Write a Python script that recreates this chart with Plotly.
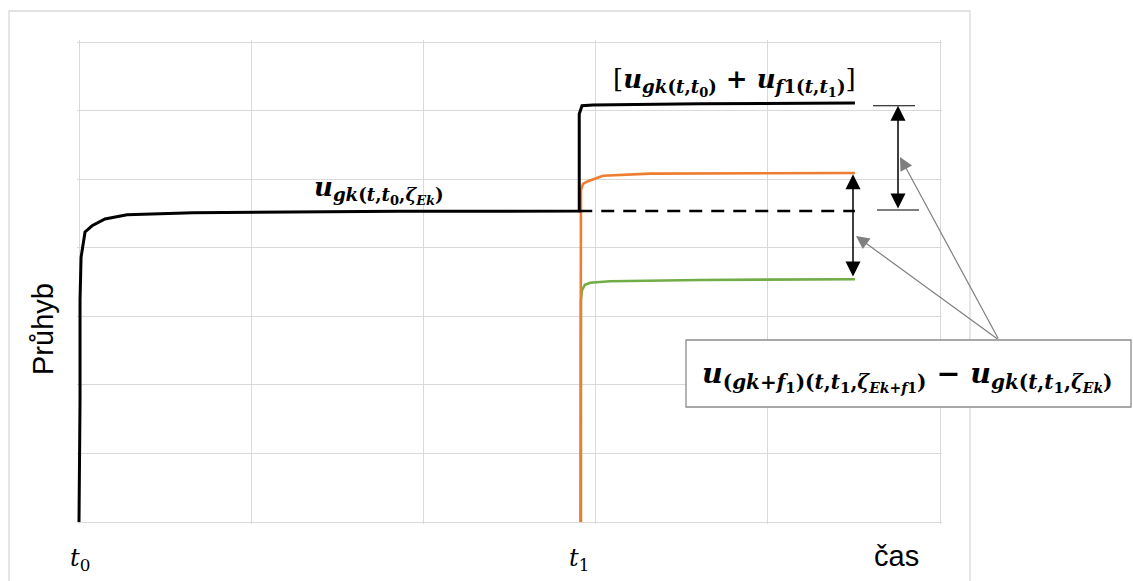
import plotly.graph_objects as go

# ---------------- data (time in grid units, deflection in grid units) ----------------
t0 = 0.0
t1 = 2.905
t_end = 4.506

# long-term deflection from load gk applied at t0 (black)
t_gk = [0.0, 0.006, 0.006, 0.012, 0.035, 0.076, 0.151, 0.279, 0.662, 1.051, 1.864, 2.905]
u_gk = [0.0, 1.78, 3.24, 3.86, 4.23, 4.32, 4.42, 4.48, 4.51, 4.52, 4.53, 4.535]
# superposition after t1 (black, upper)
t_sum = [2.905, 2.905, 2.921, 2.985, 3.606, 4.506]
u_sum = [4.535, 5.95, 6.07, 6.08, 6.10, 6.11]
# continuation of gk without extra load (dashed)
t_dash = [2.905, 4.506]
u_dash = [4.535, 4.535]
# deflection (gk+f1) from t1 (orange)
t_or = [2.912, 2.912, 2.915, 2.927, 2.956, 3.043, 3.316, 4.506]
u_or = [0.0, 3.24, 4.84, 4.93, 4.97, 5.05, 5.08, 5.09]
# deflection gk from t1 (green)
t_gr = [2.915, 2.915, 2.921, 2.938, 2.968, 3.084, 3.606, 4.506]
u_gr = [0.0, 3.24, 3.38, 3.46, 3.49, 3.51, 3.53, 3.54]

x_tick_labels = ["t", "t", "čas"]
x_tick_subs = ["0", "1", ""]
y_title = "Průhyb"

# ---------------- layout helpers ----------------
W, H = 1133, 581
# grid box (pixel) and a 2px padding so lines on the edges are not clipped
GL, GR, GT, GB = 79, 940, 42, 522
PAD = 2
PL, PR, PT, PB = GL - PAD, GR + PAD, GT - PAD, GB + PAD
XU = (GR - GL) / 5.0   # px per x unit
YU = (GB - GT) / 7.0   # px per y unit


def px(x):
    return (x - PL) / (PR - PL)


def py(y):
    return (PB - y) / (PB - PT)


def dx(p):
    return (p - GL) / XU


def dy(p):
    return (GB - p) / YU


GRID = "#d9d9d9"
MATHFONT = "DejaVu Serif"

fig = go.Figure()

fig.add_trace(go.Scatter(x=t_gr, y=u_gr, mode="lines",
                         line=dict(color="#70AD47", width=2.6)))
fig.add_trace(go.Scatter(x=t_or, y=u_or, mode="lines",
                         line=dict(color="#ED7D31", width=2.6)))
fig.add_trace(go.Scatter(x=t_dash, y=u_dash, mode="lines",
                         line=dict(color="black", width=2.6, dash="13px,9px")))
fig.add_trace(go.Scatter(x=t_gk + t_sum[1:], y=u_gk + u_sum[1:], mode="lines",
                         line=dict(color="black", width=3)))

shapes = []
# outer chart frame
shapes.append(dict(type="rect", xref="paper", yref="paper",
                   x0=px(9), x1=px(970), y0=py(11), y1=py(600),
                   line=dict(color=GRID, width=1.3), layer="below"))
# horizontal bars of the dimension marker
shapes.append(dict(type="line", xref="x", yref="y", x0=dx(873), x1=dx(915), y0=6.07, y1=6.07,
                   line=dict(color="black", width=1.2)))
shapes.append(dict(type="line", xref="x", yref="y", x0=dx(877), x1=dx(919), y0=4.55, y1=4.55,
                   line=dict(color="black", width=1.2)))
# callout box
shapes.append(dict(type="rect", xref="paper", yref="paper",
                   x0=px(686), x1=px(1131), y0=py(407), y1=py(340),
                   line=dict(color="#8c8c8c", width=1.3), fillcolor="white", layer="above"))

ann = []
# double arrows
ann.append(dict(xref="x", yref="y", axref="x", ayref="y", x=dx(898), y=6.07, ax=dx(898), ay=4.55,
                showarrow=True, arrowhead=2, startarrowhead=2, arrowside="end+start",
                arrowwidth=1.5, arrowsize=2, startarrowsize=2, arrowcolor="black", text=""))
ann.append(dict(xref="x", yref="y", axref="x", ayref="y", x=dx(853), y=5.07, ax=dx(853), ay=3.56,
                showarrow=True, arrowhead=2, startarrowhead=2, arrowside="end+start",
                arrowwidth=1.5, arrowsize=2, startarrowsize=2, arrowcolor="black", text=""))
# grey leader arrows
tail_x, tail_y = dx(999), dy(340)
ann.append(dict(xref="x", yref="y", axref="x", ayref="y", x=dx(900), y=dy(157),
                ax=tail_x, ay=tail_y, showarrow=True, arrowhead=2, arrowwidth=1.2, arrowsize=2.2,
                arrowcolor="#7f7f7f", text=""))
ann.append(dict(xref="x", yref="y", axref="x", ayref="y", x=dx(856), y=dy(236),
                ax=tail_x, ay=tail_y, showarrow=True, arrowhead=2, arrowwidth=1.2, arrowsize=2.2,
                arrowcolor="#7f7f7f", text=""))


def ss(s, size=13):
    return '<sub><span style="font-size:%dpx">%s</span></sub>' % (size, s)


# math labels
lab1 = "<b><i>u</i><sub><i>gk</i>(<i>t</i>,<i>t</i>" + ss("0") + ",<i>ζ</i>" + ss("<i>Ek</i>") + ")</sub></b>"
lab2 = ("[<b><i>u</i><sub><i>gk</i>(<i>t</i>,<i>t</i>" + ss("0") + ")</sub> + "
        "<i>u</i><sub><i>f</i>1(<i>t</i>,<i>t</i>" + ss("1") + ")</sub></b>]")
lab3 = ("<b><i>u</i><sub>(<i>gk</i>+<i>f</i>" + ss("1", 15) + ")(<i>t</i>,<i>t</i>" + ss("1", 15) + ","
        "<i>ζ</i>" + ss("<i>Ek</i>+<i>f</i>1", 14) + ")</sub> − "
        "<i>u</i><sub><i>gk</i>(<i>t</i>,<i>t</i>" + ss("1", 15) + ",<i>ζ</i>" + ss("<i>Ek</i>", 14) + ")</sub></b>")


def label(xp, yp, text, size, family=MATHFONT, angle=0):
    ann.append(dict(xref="paper", yref="paper", x=px(xp), y=py(yp), text=text, showarrow=False,
                    xanchor="center", yanchor="middle", textangle=angle,
                    font=dict(family=family, size=size, color="black")))


label(379, 190, lab1, 26)
label(734, 82, lab2, 26)
label(907, 376, lab3, 28.5)

# axis labels
label(80, 559, "<i>" + x_tick_labels[0] + "</i><sub>" + x_tick_subs[0] + "</sub>", 24)
label(579, 559, "<i>" + x_tick_labels[1] + "</i><sub>" + x_tick_subs[1] + "</sub>", 24)
label(896, 556, x_tick_labels[2], 29, family="Liberation Sans")
label(43, 329, y_title, 29, family="Liberation Sans", angle=-90)

fig.update_layout(
    width=W, height=H,
    margin=dict(l=PL, r=W - PR, t=PT, b=H - PB),
    paper_bgcolor="white", plot_bgcolor="white",
    showlegend=False,
    shapes=shapes, annotations=ann,
    xaxis=dict(range=[-PAD / XU, 5 + PAD / XU], tick0=0, dtick=1, showgrid=True,
               gridcolor=GRID, gridwidth=1.3, showline=False,
               zeroline=False, showticklabels=False, ticks=""),
    yaxis=dict(range=[-PAD / YU, 7 + PAD / YU], tick0=0, dtick=1, showgrid=True,
               gridcolor=GRID, gridwidth=1.3, showline=False,
               zeroline=False, showticklabels=False, ticks=""),
)

fig.write_html("out.html")
